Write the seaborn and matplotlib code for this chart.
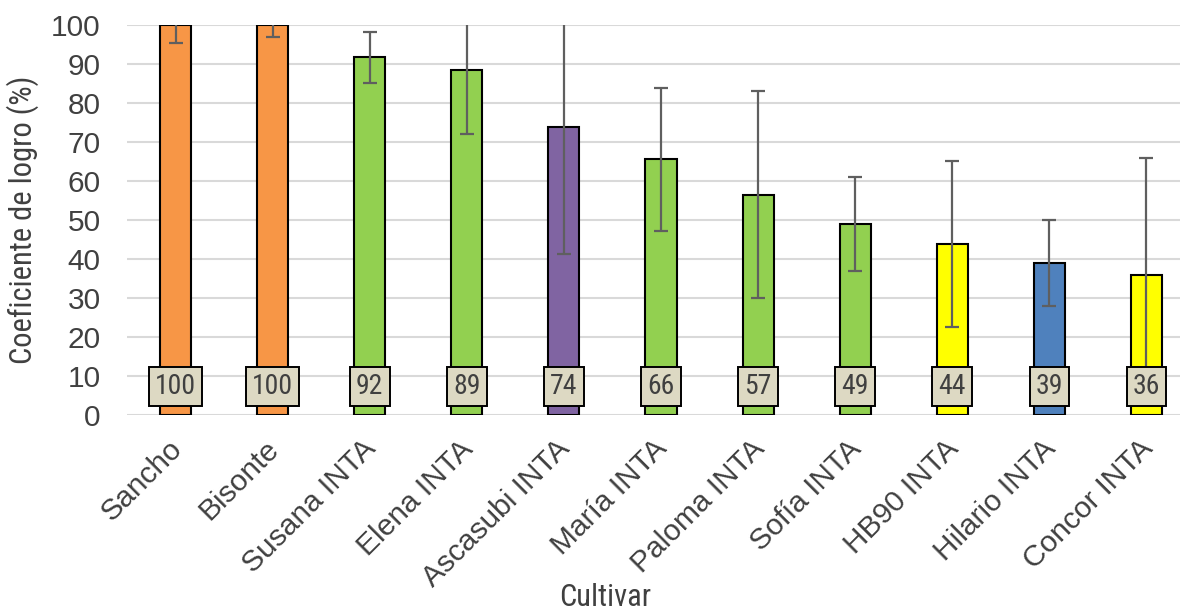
import matplotlib
matplotlib.use("Agg")
import matplotlib.pyplot as plt
import matplotlib.transforms as mtransforms
import seaborn as sns
import pandas as pd

# Values
cultivars = ["Sancho", "Bisonte", "Susana INTA", "Elena INTA", "Ascasubi INTA",
             "María INTA", "Paloma INTA", "Sofía INTA", "HB90 INTA",
             "Hilario INTA", "Concor INTA"]
logro = [100, 100, 92, 89, 74, 66, 57, 49, 44, 39, 36]
logro_exact = [100, 100, 91.7, 88.5, 73.8, 65.6, 56.5, 49.0, 43.9, 38.9, 35.9]
error = [4.5, 3.0, 6.5, 16.5, 32.5, 18.3, 26.5, 12.0, 21.3, 11.0, 30.0]
colors = ["#F79646", "#F79646", "#92D050", "#92D050", "#8064A2", "#92D050",
          "#92D050", "#92D050", "#FFFF00", "#4F81BD", "#FFFF00"]

narrow = ["Roboto Condensed", "Liberation Sans Narrow", "DejaVu Sans Condensed", "Roboto"]

sns.set_style("white")
plt.rcParams["font.family"] = ["Liberation Sans", "DejaVu Sans"]

df = pd.DataFrame({"Cultivar": cultivars, "logro": logro_exact})

fig = plt.figure(figsize=(11.8, 6.13), dpi=100)
ax = fig.add_axes([127 / 1180, 198 / 613, 1068 / 1180, 390 / 613])

sns.barplot(data=df, x="Cultivar", y="logro", hue="Cultivar", palette=colors,
            saturation=1, legend=False, width=0.32, edgecolor="black",
            linewidth=1.5, ax=ax, zorder=2)

ax.errorbar(range(len(cultivars)), logro_exact, yerr=error, fmt="none",
            ecolor="#5F5F5F", elinewidth=1.6, capsize=5, capthick=1.6,
            zorder=3)

for i, v in enumerate(logro):
    ax.text(i, 7.4, str(v), ha="center", va="center", fontsize=20,
            family=narrow, color="#404040", zorder=5,
            bbox=dict(boxstyle="square,pad=0.22", fc="#DDD9C3", ec="black", lw=1.4))

ax.set_ylim(0, 100)
ax.set_xlim(-0.5, 10.5)
ax.set_yticks(range(0, 101, 10))
ax.yaxis.grid(True, color="#D9D9D9", linewidth=1.5, zorder=0)
ax.set_axisbelow(True)
sns.despine(ax=ax, left=True, bottom=True)
ax.tick_params(axis="both", length=0, labelsize=21.5, labelcolor="#404040")
ax.tick_params(axis="y", pad=19)
ax.tick_params(axis="x", pad=12)
shift = mtransforms.ScaledTranslation(-8 / 100, -3 / 100, fig.dpi_scale_trans)
for lab in ax.get_xticklabels():
    lab.set_rotation(45)
    lab.set_ha("right")
    lab.set_rotation_mode("anchor")
    lab.set_transform(lab.get_transform() + shift)

ax.set_xlabel("Cultivar", fontsize=22, family=narrow, color="#404040")
ax.set_ylabel("Coeficiente de logro (%)", fontsize=22, family=narrow, color="#404040")
ax.xaxis.set_label_coords(0.448, -0.43)
ax.yaxis.set_label_coords(-0.082, 0.5)

fig.savefig("out.png", dpi=100)
